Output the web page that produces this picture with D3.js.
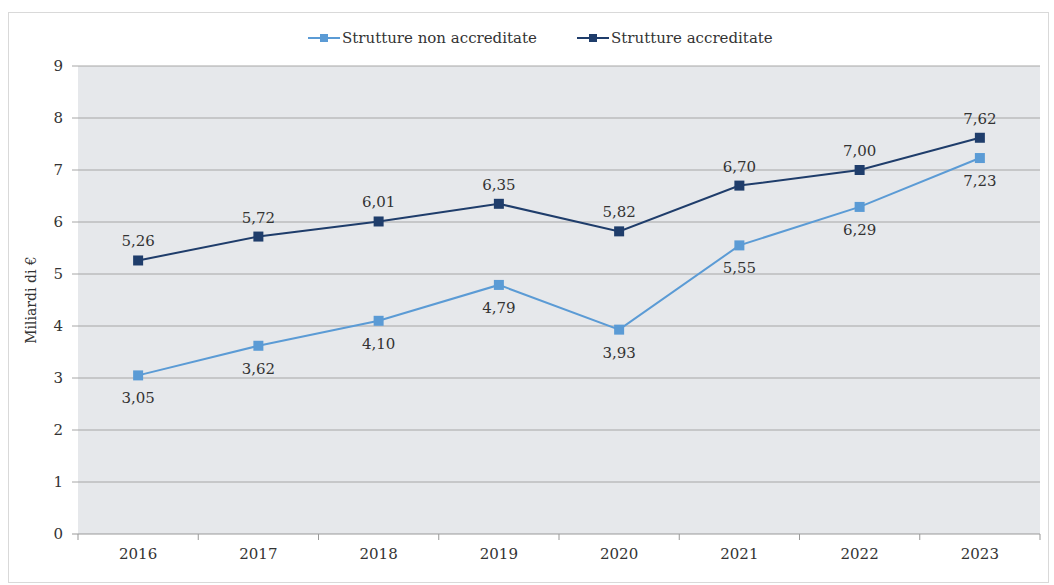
<!DOCTYPE html>
<html><head><meta charset="utf-8">
<script src="https://cdn.jsdelivr.net/npm/d3@7"></script>
<style>body{margin:0;background:#fff}svg{display:block}text{font-family:"DejaVu Serif","Liberation Serif",serif;fill:#333}</style>
</head><body>
<script>
const years = ["2016","2017","2018","2019","2020","2021","2022","2023"];
const nonAccreditate = [3.05,3.62,4.10,4.79,3.93,5.55,6.29,7.23];
const accreditate = [5.26,5.72,6.01,6.35,5.82,6.70,7.00,7.62];
const yTicks = [0,1,2,3,4,5,6,7,8,9];
const seriesNames = ["Strutture non accreditate","Strutture accreditate"];

const W=1054,H=585;
const svg=d3.select("body").append("svg").attr("width",W).attr("height",H);
svg.append("rect").attr("x",8.5).attr("y",12.5).attr("width",1040).attr("height",570).attr("fill","#fff").attr("stroke","#d9d9d9");
const L=78,R=1040,T=66,B=534;
const x=d3.scaleBand().domain(years).range([L,R]);
const y=d3.scaleLinear().domain([0,9]).range([B,T]);
svg.append("rect").attr("x",L).attr("y",T).attr("width",R-L).attr("height",B-T).attr("fill","#e6e8eb");
const g=svg.append("g");
yTicks.forEach(t=>{
  g.append("line").attr("x1",L-6).attr("x2",R).attr("y1",y(t)).attr("y2",y(t)).attr("stroke",t===0?"#999":"#a6a6a6").attr("stroke-width",1);
});
const yAxis=d3.axisLeft(y).tickValues(yTicks).tickSize(0).tickPadding(12).tickFormat(d3.format("d"));
const ya=svg.append("g").attr("transform",`translate(${L-3},0)`).call(yAxis);
ya.select(".domain").remove();
ya.selectAll("text").style("font-size","15px").attr("fill","#333").style("font-family","'DejaVu Serif',serif");
years.concat(["end"]).forEach((d,i)=>{
  const xx=L+i*x.step();
  svg.append("line").attr("x1",xx).attr("x2",xx).attr("y1",B).attr("y2",B+6).attr("stroke","#999");
});
const xAxis=d3.axisBottom(x).tickSize(0).tickPadding(14);
const xa=svg.append("g").attr("transform",`translate(0,${B})`).call(xAxis);
xa.select(".domain").remove();
xa.selectAll("text").style("font-size","15px").attr("fill","#333").style("font-family","'DejaVu Serif',serif");
svg.append("text").attr("transform",`translate(36,${(T+B)/2}) rotate(-90)`).attr("text-anchor","middle").style("font-size","14px").text("Miliardi di €");

const cx=d=>x(d)+x.bandwidth()/2;
const colors=["#5b9bd5","#1f3d6b"];
[nonAccreditate,accreditate].forEach((vals,si)=>{
  const line=d3.line().x((d,i)=>cx(years[i])).y(d=>y(d));
  svg.append("path").datum(vals).attr("d",line).attr("fill","none").attr("stroke",colors[si]).attr("stroke-width",2);
  svg.selectAll(null).data(vals).enter().append("rect")
    .attr("x",(d,i)=>cx(years[i])-5).attr("y",d=>y(d)-5).attr("width",10).attr("height",10).attr("fill",colors[si]);
  svg.selectAll(null).data(vals).enter().append("text")
    .attr("x",(d,i)=>cx(years[i])).attr("y",d=>si===1?y(d)-14:y(d)+28)
    .attr("text-anchor","middle").style("font-size","15px")
    .text(d=>d3.format(".2f")(d).replace(".",","));
});
const leg=[{x:308,name:seriesNames[0],c:colors[0]},{x:577,name:seriesNames[1],c:colors[1]}];
leg.forEach(l=>{
  svg.append("line").attr("x1",l.x).attr("x2",l.x+32).attr("y1",38).attr("y2",38).attr("stroke",l.c).attr("stroke-width",2);
  svg.append("rect").attr("x",l.x+12).attr("y",34).attr("width",8).attr("height",8).attr("fill",l.c);
  svg.append("text").attr("x",l.x+34).attr("y",43).style("font-size","15px").text(l.name);
});
</script>
</body></html>
